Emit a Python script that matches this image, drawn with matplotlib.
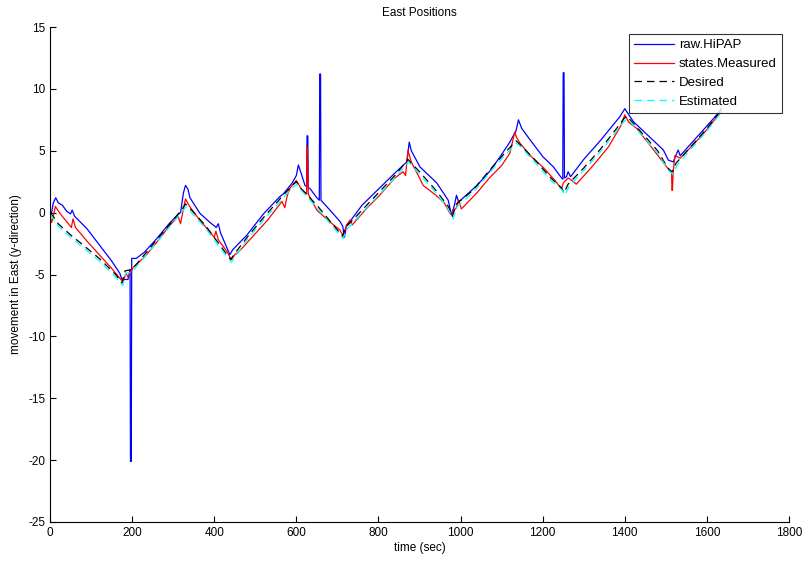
import numpy as np
import matplotlib
matplotlib.use("Agg")
import matplotlib.pyplot as plt

plt.rcParams['font.family'] = ['Liberation Sans', 'DejaVu Sans']
plt.rcParams['axes.unicode_minus'] = False

# raw.HiPAP (blue)
t_raw = [0, 4, 8, 14, 20, 30, 41, 50, 54, 60, 90, 120, 150, 170, 175, 190, 195, 196, 198, 199, 210,
         230, 260, 290, 310, 318, 325, 330, 336, 341, 365, 390, 405, 410, 415, 438, 445, 480, 520, 560, 568,
         590, 600, 605, 613, 621, 625, 626, 628, 629, 633, 650, 656, 657, 659, 660, 682, 706, 713, 717, 722, 731, 760,
         800, 840, 869, 875, 880, 901, 942, 970, 978, 985, 990, 995, 1000, 1040, 1070, 1096, 1120, 1135, 1141, 1149,
         1169, 1201, 1226, 1246, 1249, 1250, 1252, 1253, 1258, 1262, 1268, 1300, 1340, 1388, 1400, 1421, 1461, 1494, 1506, 1518, 1530,
         1535, 1570, 1600, 1624, 1635]
y_raw = [-0.1, 0.0, 0.8, 1.2, 0.8, 0.6, 0.1, -0.1, 0.2, -0.3, -1.3, -2.6, -3.9, -4.9, -5.4, -5.4, -4.6, -20.1, -20.1, -3.7, -3.7,
         -3.2, -2.1, -0.9, -0.2, 0.0, 1.6, 2.2, 1.9, 1.2, -0.05, -0.8, -1.2, -0.9, -1.6, -3.4, -3.0, -1.8, -0.1, 1.3, 1.5,
         2.4, 3.0, 3.85, 3.05, 2.2, 2.1, 6.2, 6.2, 2.0, 1.96, 1.2, 1.0, 11.2, 11.2, 1.0, 0.2, -0.7, -1.1, -2.0, -1.1, -0.7, 0.6,
         1.9, 3.2, 4.1, 5.7, 5.0, 3.7, 2.4, 1.0, -0.2, 0.6, 1.4, 0.9, 1.0, 2.2, 3.3, 4.5, 5.7, 6.6, 7.5, 6.8,
         5.9, 4.5, 3.7, 2.8, 2.7, 11.3, 11.3, 2.8, 2.9, 3.3, 2.9, 4.3, 5.8, 7.75, 8.4, 7.35, 6.1, 5.06, 4.25, 4.1, 5.06,
         4.6, 5.9, 7.0, 7.9, 8.4]

# states.Measured (red)
t_meas = [0, 4, 8, 13, 25, 40, 52, 56, 62, 90, 120, 150, 170, 178, 185, 190, 197, 203, 230, 260,
          290, 312, 318, 325, 330, 340, 360, 380, 400, 404, 410, 430, 442, 450, 458, 470, 500, 530, 565, 572,
          578, 585, 600, 612, 622, 625, 626, 627, 629, 650, 680, 706, 714, 722, 731, 736, 770, 800, 840, 860, 866,
          872, 880, 909, 940, 960, 975, 990, 995, 1002, 1040, 1070, 1100, 1120, 1132, 1136, 1145, 1170, 1200, 1230, 1246,
          1250, 1262, 1275, 1282, 1320, 1360, 1390, 1400, 1410, 1429, 1460, 1502, 1514, 1515, 1516, 1518, 1522, 1535, 1570, 1600, 1635]
y_meas = [-0.2, -0.8, -0.3, 0.5, -0.1, -0.7, -1.2, -0.5, -1.2, -2.3, -3.4, -4.5, -5.3, -5.6, -4.9, -5.2, -4.8, -4.4, -3.6, -2.4,
          -1.1, -0.3, -0.9, 0.3, 1.1, 0.5, -0.4, -1.2, -2.0, -1.5, -2.2, -3.1, -3.8, -3.4, -3.2, -2.8, -1.7, -0.6, 0.9, 0.4,
          1.4, 2.0, 2.6, 1.9, 1.6, 1.5, 5.3, 5.3, 1.5, 0.2, -0.7, -1.4, -1.9, -1.0, -0.6, -1.0, 0.3, 1.3, 2.8, 3.3, 3.0,
          5.0, 4.1, 2.2, 1.4, 0.8, -0.1, 0.4, 1.0, 0.3, 1.6, 2.8, 3.8, 4.8, 6.5, 6.1, 5.6, 4.6, 3.7, 2.6, 1.9,
          2.4, 2.8, 2.5, 2.3, 3.7, 5.3, 7.0, 7.9, 7.3, 6.8, 5.5, 3.7, 3.2, 1.8, 1.8, 3.3, 4.6, 4.4, 5.6, 6.7, 8.2]

# Desired (black dashed)
t_des = [0, 10, 20, 50, 80, 120, 160, 175, 183, 200, 230, 270, 300, 320, 330, 345, 380, 420, 440, 450,
         480, 520, 560, 590, 600, 610, 650, 690, 712, 720, 760, 800, 840, 865, 872, 900, 940, 970, 980, 990,
         1030, 1070, 1110, 1135, 1142, 1180, 1220, 1246, 1252, 1262, 1300, 1340, 1380, 1398, 1405, 1440, 1480, 1505, 1515, 1525,
         1560, 1600, 1635]
y_des = [0.0, -0.4, -0.9, -1.8, -2.6, -3.7, -5.0, -5.7, -4.7, -4.6, -3.4, -1.8, -0.6, 0.2, 0.7, 0.2, -1.1, -2.9, -3.8, -3.3,
         -2.0, -0.4, 1.1, 2.2, 2.5, 2.0, 0.6, -1.0, -1.9, -1.2, 0.2, 1.6, 3.0, 4.0, 4.3, 3.3, 1.8, 0.5, -0.3, 0.7,
         1.8, 3.4, 4.9, 5.8, 5.6, 4.3, 2.8, 2.0, 1.6, 2.3, 3.6, 5.1, 6.8, 7.6, 7.8, 6.5, 5.0, 3.6, 3.3, 4.0,
         5.3, 6.8, 8.3]

# Estimated (cyan dashed)
t_est = [0, 10, 20, 50, 80, 120, 160, 177, 185, 200, 230, 270, 300, 320, 332, 345, 380, 420, 442, 452,
         480, 520, 560, 590, 602, 612, 650, 690, 714, 722, 760, 800, 840, 866, 873, 900, 940, 970, 982, 992,
         1030, 1070, 1110, 1136, 1144, 1180, 1220, 1248, 1254, 1264, 1300, 1340, 1380, 1399, 1407, 1440, 1480, 1507, 1517, 1527,
         1560, 1600, 1635]
y_est = [-0.1, -0.6, -1.1, -2.0, -2.8, -3.9, -5.2, -5.9, -4.9, -4.8, -3.6, -2.0, -0.8, 0.0, 0.5, 0.0, -1.3, -3.1, -4.0, -3.5,
         -2.2, -0.6, 0.9, 2.0, 2.3, 1.8, 0.4, -1.2, -2.1, -1.4, 0.0, 1.4, 2.8, 3.8, 4.1, 3.1, 1.6, 0.3, -0.5, 0.5,
         1.6, 3.2, 4.7, 5.6, 5.4, 4.1, 2.6, 1.8, 1.4, 2.1, 3.4, 4.9, 6.6, 7.4, 7.6, 6.3, 4.8, 3.4, 3.1, 3.8,
         5.1, 6.6, 8.1]

fig = plt.figure(figsize=(8.04, 5.63), dpi=100)
ax = fig.add_axes([50/804, 1-522/563, 739/804, 495/563])

ax.plot(t_raw, y_raw, color='#0000ff', lw=0.9, label='raw.HiPAP')
ax.plot(t_meas, y_meas, color='#ff0000', lw=0.9, label='states.Measured')
ax.plot(t_des, y_des, color='black', lw=0.9, ls=(0, (6, 4)), label='Desired')
ax.plot(t_est, y_est, color='cyan', lw=0.9, ls=(0, (6, 4)), label='Estimated')

ax.set_xlim(0, 1800)
ax.set_ylim(-25, 15)
ax.set_xticks(np.arange(0, 1801, 200))
ax.set_yticks(np.arange(-25, 16, 5))
ax.tick_params(direction='in', length=4, width=0.8, labelsize=8.5, top=False, right=False)
ax.spines['top'].set_visible(False)
ax.spines['right'].set_visible(False)
for s in ('left', 'bottom'):
    ax.spines[s].set_linewidth(0.8)

ax.set_title('East Positions', fontsize=8.5, pad=8)
ax.set_xlabel('time (sec)', fontsize=8.5, labelpad=2)
ax.set_ylabel('movement in East (y-direction)', fontsize=8.5, labelpad=4)

leg = ax.legend(loc='upper right', bbox_to_anchor=(0.9905, 0.986), borderaxespad=0, fontsize=9.5,
                frameon=True, fancybox=False, handlelength=3.0, handletextpad=0.4, borderpad=0.4,
                labelspacing=0.5)
leg.get_frame().set_edgecolor('black')
leg.get_frame().set_linewidth(0.8)

fig.savefig('out.png', dpi=100)
